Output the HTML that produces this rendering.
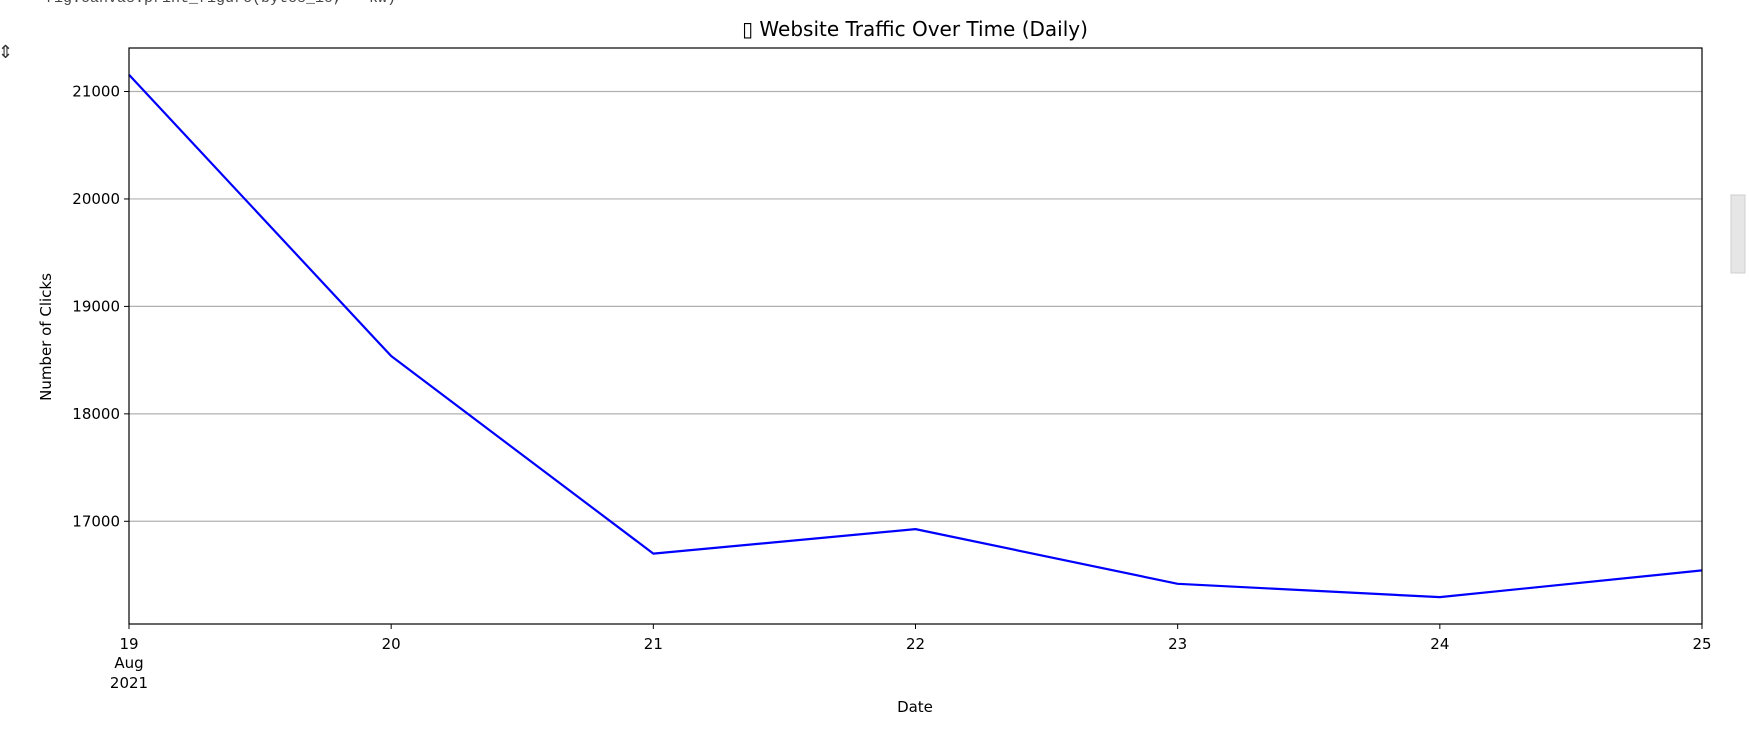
<!DOCTYPE html>
<html><head><meta charset="utf-8"><style>
html,body{margin:0;padding:0;background:#fff;width:1749px;height:742px;overflow:hidden}
svg{display:block;font-family:"DejaVu Sans","Liberation Sans",sans-serif}
</style></head><body>
<svg id="chart" width="1749" height="742">
<text x="45" y="2" font-family="Liberation Mono, monospace" font-size="15" fill="#444">fig.canvas.print_figure(bytes_io, **kw)</text>
<text x="-2" y="58" font-size="18" fill="#333">⇕</text>
<rect x="1731" y="195" width="14" height="78" fill="#e6e6e6" stroke="#cfcfcf"/>
<text x="915" y="36" text-anchor="middle" font-size="20" fill="#000">▯ Website Traffic Over Time (Daily)</text>
<text transform="translate(51,337) rotate(-90)" text-anchor="middle" font-size="15" fill="#000">Number of Clicks</text>
<text x="915" y="712" text-anchor="middle" font-size="15" fill="#000">Date</text>
<g id="grid"></g><g id="marks"></g><g id="axes"></g>
</svg>
<script>
const categories = ["19","20","21","22","23","24","25"];
const clicks = [21156, 18538, 16699, 16927, 16418, 16294, 16543];
const yTicks = [17000, 18000, 19000, 20000, 21000];
const L=129, R=1702, T=48, B=624, YMIN=16044, YMAX=21405;
const NS="http://www.w3.org/2000/svg";
const xs=i=>L+(R-L)*i/(categories.length-1);
const ys=v=>B-(v-YMIN)/(YMAX-YMIN)*(B-T);
function mk(tag,attrs,parent){const e=document.createElementNS(NS,tag);for(const k in attrs)e.setAttribute(k,attrs[k]);parent.appendChild(e);return e;}
const grid=document.getElementById('grid'),marks=document.getElementById('marks'),axes=document.getElementById('axes');
yTicks.forEach(v=>{
  const y=ys(v);
  const g=mk('line',{x1:L,x2:R,y1:y,y2:y,stroke:'#b0b0b0','stroke-width':1.2},grid);
  
  
  const t=mk('line',{x1:L-5,x2:L,y1:y,y2:y,stroke:'#000','stroke-width':1},axes);
  
  
  const tx=mk('text',{x:L-9,y:y+5,'text-anchor':'end','font-size':15,fill:'#000'},axes);
  tx.textContent=v;
  
  
});
const pts=clicks.map((v,i)=>xs(i)+','+ys(v)).join(' ');
const line=mk('polyline',{points:pts,fill:'none',stroke:'#0000ff','stroke-width':2.2,'stroke-linejoin':'round'},marks);


categories.forEach((c,i)=>{
  const x=xs(i);
  const t=mk('line',{x1:x,x2:x,y1:B,y2:B+5,stroke:'#000','stroke-width':1},axes);
  
  
  const tx=mk('text',{x:x,y:B+25,'text-anchor':'middle','font-size':15,fill:'#000'},axes);
  tx.textContent=c;
  
  
});
const a=mk('text',{x:xs(0),y:B+44,'text-anchor':'middle','font-size':15,fill:'#000'},axes);a.textContent='Aug';


const yr=mk('text',{x:xs(0),y:B+64,'text-anchor':'middle','font-size':15,fill:'#000'},axes);yr.textContent='2021';


const fr=mk('rect',{x:L,y:T,width:R-L,height:B-T,fill:'none',stroke:'#000','stroke-width':1.2},axes);


</script>
</body></html>
